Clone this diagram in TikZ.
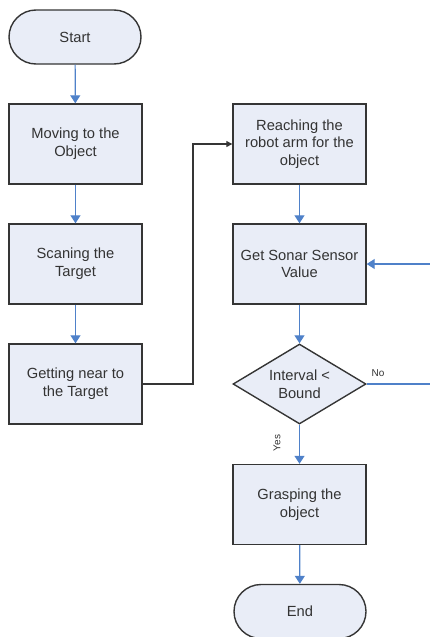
\documentclass[tikz,border=0pt]{standalone}
\usepackage{fontspec}
\setmainfont{Liberation Sans}
\usetikzlibrary{arrows.meta,shapes.geometric}
\definecolor{boxfill}{HTML}{E9EDF7}
\definecolor{boxline}{HTML}{353535}
\definecolor{flowblue}{HTML}{4F81C9}
\definecolor{txt}{HTML}{333333}
\tikzset{
  x=1pt,y=1pt,
  base/.style={draw=boxline,fill=boxfill,line width=1.4pt,text=txt,font=\fontsize{14.7}{17.8}\selectfont,align=center,inner sep=0pt},
  procbox/.style={base,rectangle,minimum width=133pt,minimum height=80pt},
  term/.style={base,rectangle,rounded corners=27pt,minimum width=132pt,minimum height=54pt},
  decision/.style={base,diamond,aspect=1.66,minimum width=133pt,minimum height=80pt},
  flow/.style={draw=flowblue,line width=1.2pt,-{Triangle[length=8pt,width=10pt]}},
  blackflow/.style={draw=boxline,line width=1.2pt,-{Triangle[length=6pt,width=6pt]}},
  lbl/.style={text=txt,font=\fontsize{10}{12}\selectfont,inner sep=0pt}
}
\begin{document}
\begin{tikzpicture}
\useasboundingbox (0,0) rectangle (430,-637);
\node[term] (start) at (75,-37) {Start};
\node[procbox] (move) at (75.5,-144) {Moving to the\\Object};
\node[procbox] (scan) at (75.5,-264) {Scaning the\\Target};
\node[procbox] (near) at (75.5,-384) {Getting near to\\the Target};
\node[procbox] (reach) at (299.5,-144) {Reaching the\\robot arm for the\\object};
\node[procbox] (sonar) at (299.5,-264) {Get Sonar Sensor\\Value};
\node[decision] (dec) at (299.5,-384) {Interval <\\Bound};
\node[procbox] (grasp) at (299.5,-504.5) {Grasping the\\object};
\node[term] (end) at (300,-611.5) {End};
\coordinate (inR) at (430,-264);
\coordinate (outR) at (430,-384);
\draw[flow] (start) -- (move);
\draw[flow] (move) -- (scan);
\draw[flow] (scan) -- (near);
\draw[blackflow] (near.east) -- (193,-384) |- (reach.west);
\draw[flow] (reach) -- (sonar);
\draw[flow] (sonar) -- (dec);
\draw[flow] (dec) -- (grasp);
\node[lbl,rotate=90] (yes) at (277,-443) {Yes};
\draw[flow] (grasp) -- (end);
\draw[flow] (inR) -- (sonar.east);
\draw[draw=flowblue,line width=1.2pt] (dec.east) -- (outR);
\node[lbl] (no) at (378,-373) {No};
\end{tikzpicture}
\end{document}
